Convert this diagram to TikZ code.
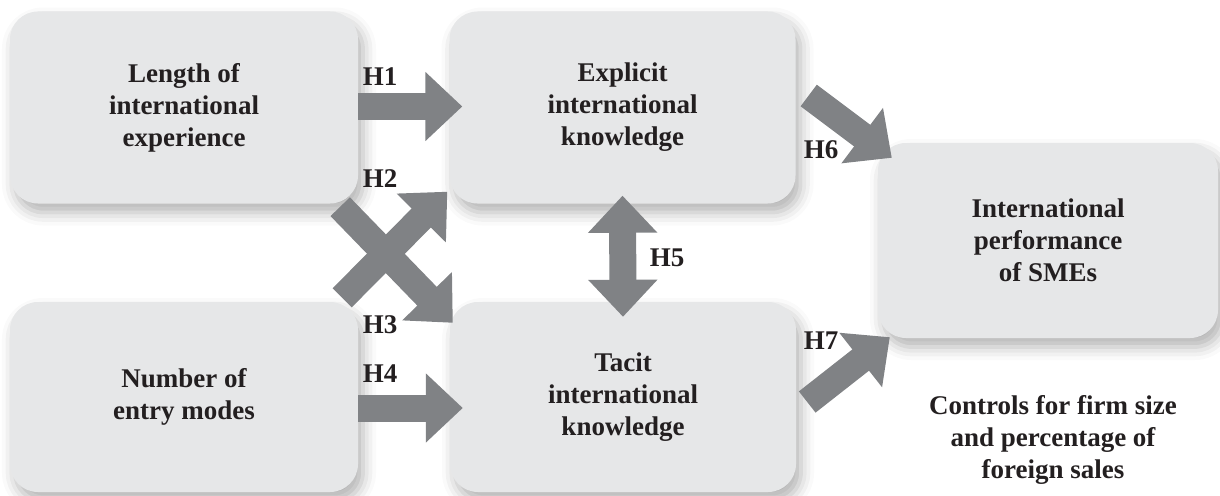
\documentclass[tikz,border=0pt]{standalone}
\usepackage{fontspec}
\setmainfont{Liberation Serif}
\usetikzlibrary{arrows.meta,calc,shadows.blur}

\definecolor{boxgray}{HTML}{E6E7E8}
\definecolor{arrowgray}{HTML}{808285}
\definecolor{inkgray}{HTML}{231F20}

\begin{document}
\begin{tikzpicture}[x=1pt,y=-1pt,
  font={\fontsize{27pt}{32pt}\selectfont\bfseries},
  every node/.style={text=inkgray, align=center},
  factor/.style={fill=boxgray, rounded corners=28pt, inner sep=0pt,
    minimum height=192pt,
    blur shadow={shadow xshift=5pt, shadow yshift=-9pt, shadow blur radius=13pt, shadow opacity=30}},
  fat/.style={draw=arrowgray, line width=27pt,
    -{Triangle[length=37pt,width=67pt]}},
  fatboth/.style={draw=arrowgray, line width=27pt,
    {Triangle[length=37pt,width=67pt]}-{Triangle[length=37pt,width=67pt]}}
  ]
  \useasboundingbox (0,0) rectangle (1220,495);

  % factors
  \node[factor, minimum width=348pt] (lenexp) at (184,107.5) {Length of\\international\\experience};
  \node[factor, minimum width=348pt, minimum height=190pt] (entry) at (184,397) {Number of\\entry modes};
  \node[factor, minimum width=346pt] (explicit) at (622.5,107.5) {Explicit\\international\\knowledge};
  \node[factor, minimum width=346pt, minimum height=190pt] (tacit) at (623,397) {Tacit\\international\\knowledge};
  \node[factor, minimum width=340pt, minimum height=195pt] (perf) at (1048,240.5) {International\\performance\\of SMEs};

  % hypotheses arrows
  \draw[fat] ($(lenexp.east)+(0,-1)$) -- ($(explicit.west)+(13,-1)$);
  \draw[fat] ($(entry.east)+(0,11)$) -- ($(tacit.west)+(13,11)$);
  \draw[fat] ($(entry.north east)+(-16,-4)$) -- ($(explicit.south west)+(-2,-12)$);
  \draw[fat] ($(lenexp.south east)+(-18,3)$) -- ($(tacit.north west)+(3,21)$);
  \draw[fatboth] ($(explicit.south)+(0,-8)$) -- ($(tacit.north)+(0,15)$);
  \draw[fat] ($(explicit.east)+(13,-12)$) -- ($(perf.north west)+(14,15)$);
  \draw[fat] ($(tacit.east)+(11,5)$) -- ($(perf.south west)+(12,-1)$);

  % labels
  \node (h1) at (380,77) {H1};
  \node (h2) at (380,179) {H2};
  \node (h3) at (380,325) {H3};
  \node (h4) at (380,374) {H4};
  \node (h5) at (667,258) {H5};
  \node (h6) at (821,150) {H6};
  \node (h7) at (821,341) {H7};

  % controls
  \node (controls) at (1053,440) {Controls for firm size\\and percentage of\\foreign sales};
\end{tikzpicture}
\end{document}
